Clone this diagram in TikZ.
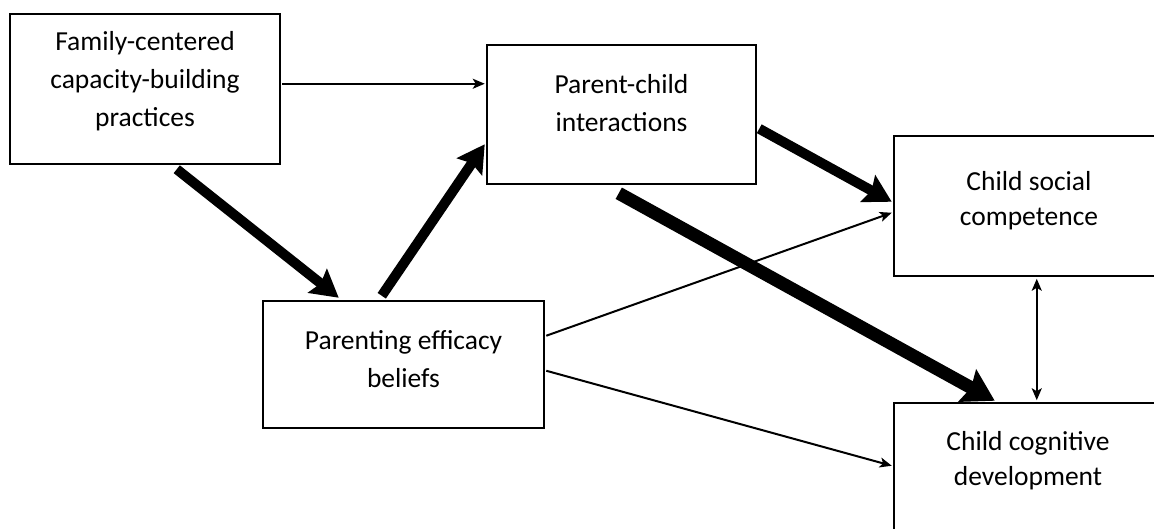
\documentclass[tikz,border=0pt]{standalone}
\usepackage{fontspec}
\setmainfont{Carlito}
\usetikzlibrary{arrows.meta,calc}
\begin{document}
\begin{tikzpicture}[x=1pt,y=-1pt,
  box/.style={draw, line width=2.5pt, rectangle, inner sep=0pt},
  txt/.style={align=center, inner sep=0pt, font=\fontsize{27.5}{38}\selectfont},
  txtsm/.style={align=center, inner sep=0pt, font=\fontsize{27.5}{35}\selectfont},
  thinarrow/.style={line width=2pt, -{Stealth[length=12pt,width=10pt,inset=3pt]}},
  dblarrow/.style={line width=2.2pt, {Stealth[length=12pt,width=10pt,inset=3pt]}-{Stealth[length=12pt,width=10pt,inset=3pt]}},
  thickarrow/.style={line width=10pt, -{Stealth[length=27pt,width=30pt,inset=4pt]}},
  heavyarrow/.style={line width=13pt, -{Stealth[length=31pt,width=36pt,inset=4pt]}},
]
\clip (0,0) rectangle (1154,529);
\fill[white] (0,0) rectangle (1154,529);

% boxes
\node[box, minimum width=270pt, minimum height=150pt] (fam) at (145,89) {};
\node[box, minimum width=269pt, minimum height=139pt] (par) at (621.5,114.5) {};
\node[box, minimum width=270pt, minimum height=140pt] (soc) at (1029,206) {};
\node[box, minimum width=281pt, minimum height=127pt] (eff) at (403.5,364.5) {};
\node[box, minimum width=270pt, minimum height=140pt] (cog) at (1029,473) {};

% texts
\node[txt] (famt) at (145,81.5) {Family-centered\\capacity-building\\practices};
\node[txt] (part) at (621.5,103) {Parent-child\\interactions};
\node[txtsm] (soct) at (1029,200.5) {Child social\\competence};
\node[txt] (efft) at (403.5,359) {Parenting efficacy\\beliefs};
\node[txtsm] (cogt) at (1028,460.5) {Child cognitive\\development};

% connectors
\draw[thinarrow] ($(fam.north east)+(1,71)$) -- ($(par.north west)+(-1,40)$);
\draw[thickarrow] ($(fam.south west)+(168,4)$) -- ($(eff.north west)+(77,-2)$);
\draw[thickarrow] ($(eff.north west)+(120,-4)$) -- ($(par.south west)+(-1,-41)$);
\draw[thickarrow] ($(par.north east)+(2,85)$) -- ($(soc.north west)+(-1,67)$);
\draw[heavyarrow] ($(par.south west)+(133,8)$) -- ($(cog.north west)+(102,-1)$);
\draw[thinarrow] ($(eff.north east)+(1,36)$) -- ($(soc.north west)+(-1,78)$);
\draw[thinarrow] ($(eff.north east)+(1,71)$) -- ($(cog.north west)+(-1,64)$);
\draw[dblarrow] ($(soc.south west)+(144,1.5)$) -- ($(cog.north west)+(144,-1.5)$);
\end{tikzpicture}
\end{document}
